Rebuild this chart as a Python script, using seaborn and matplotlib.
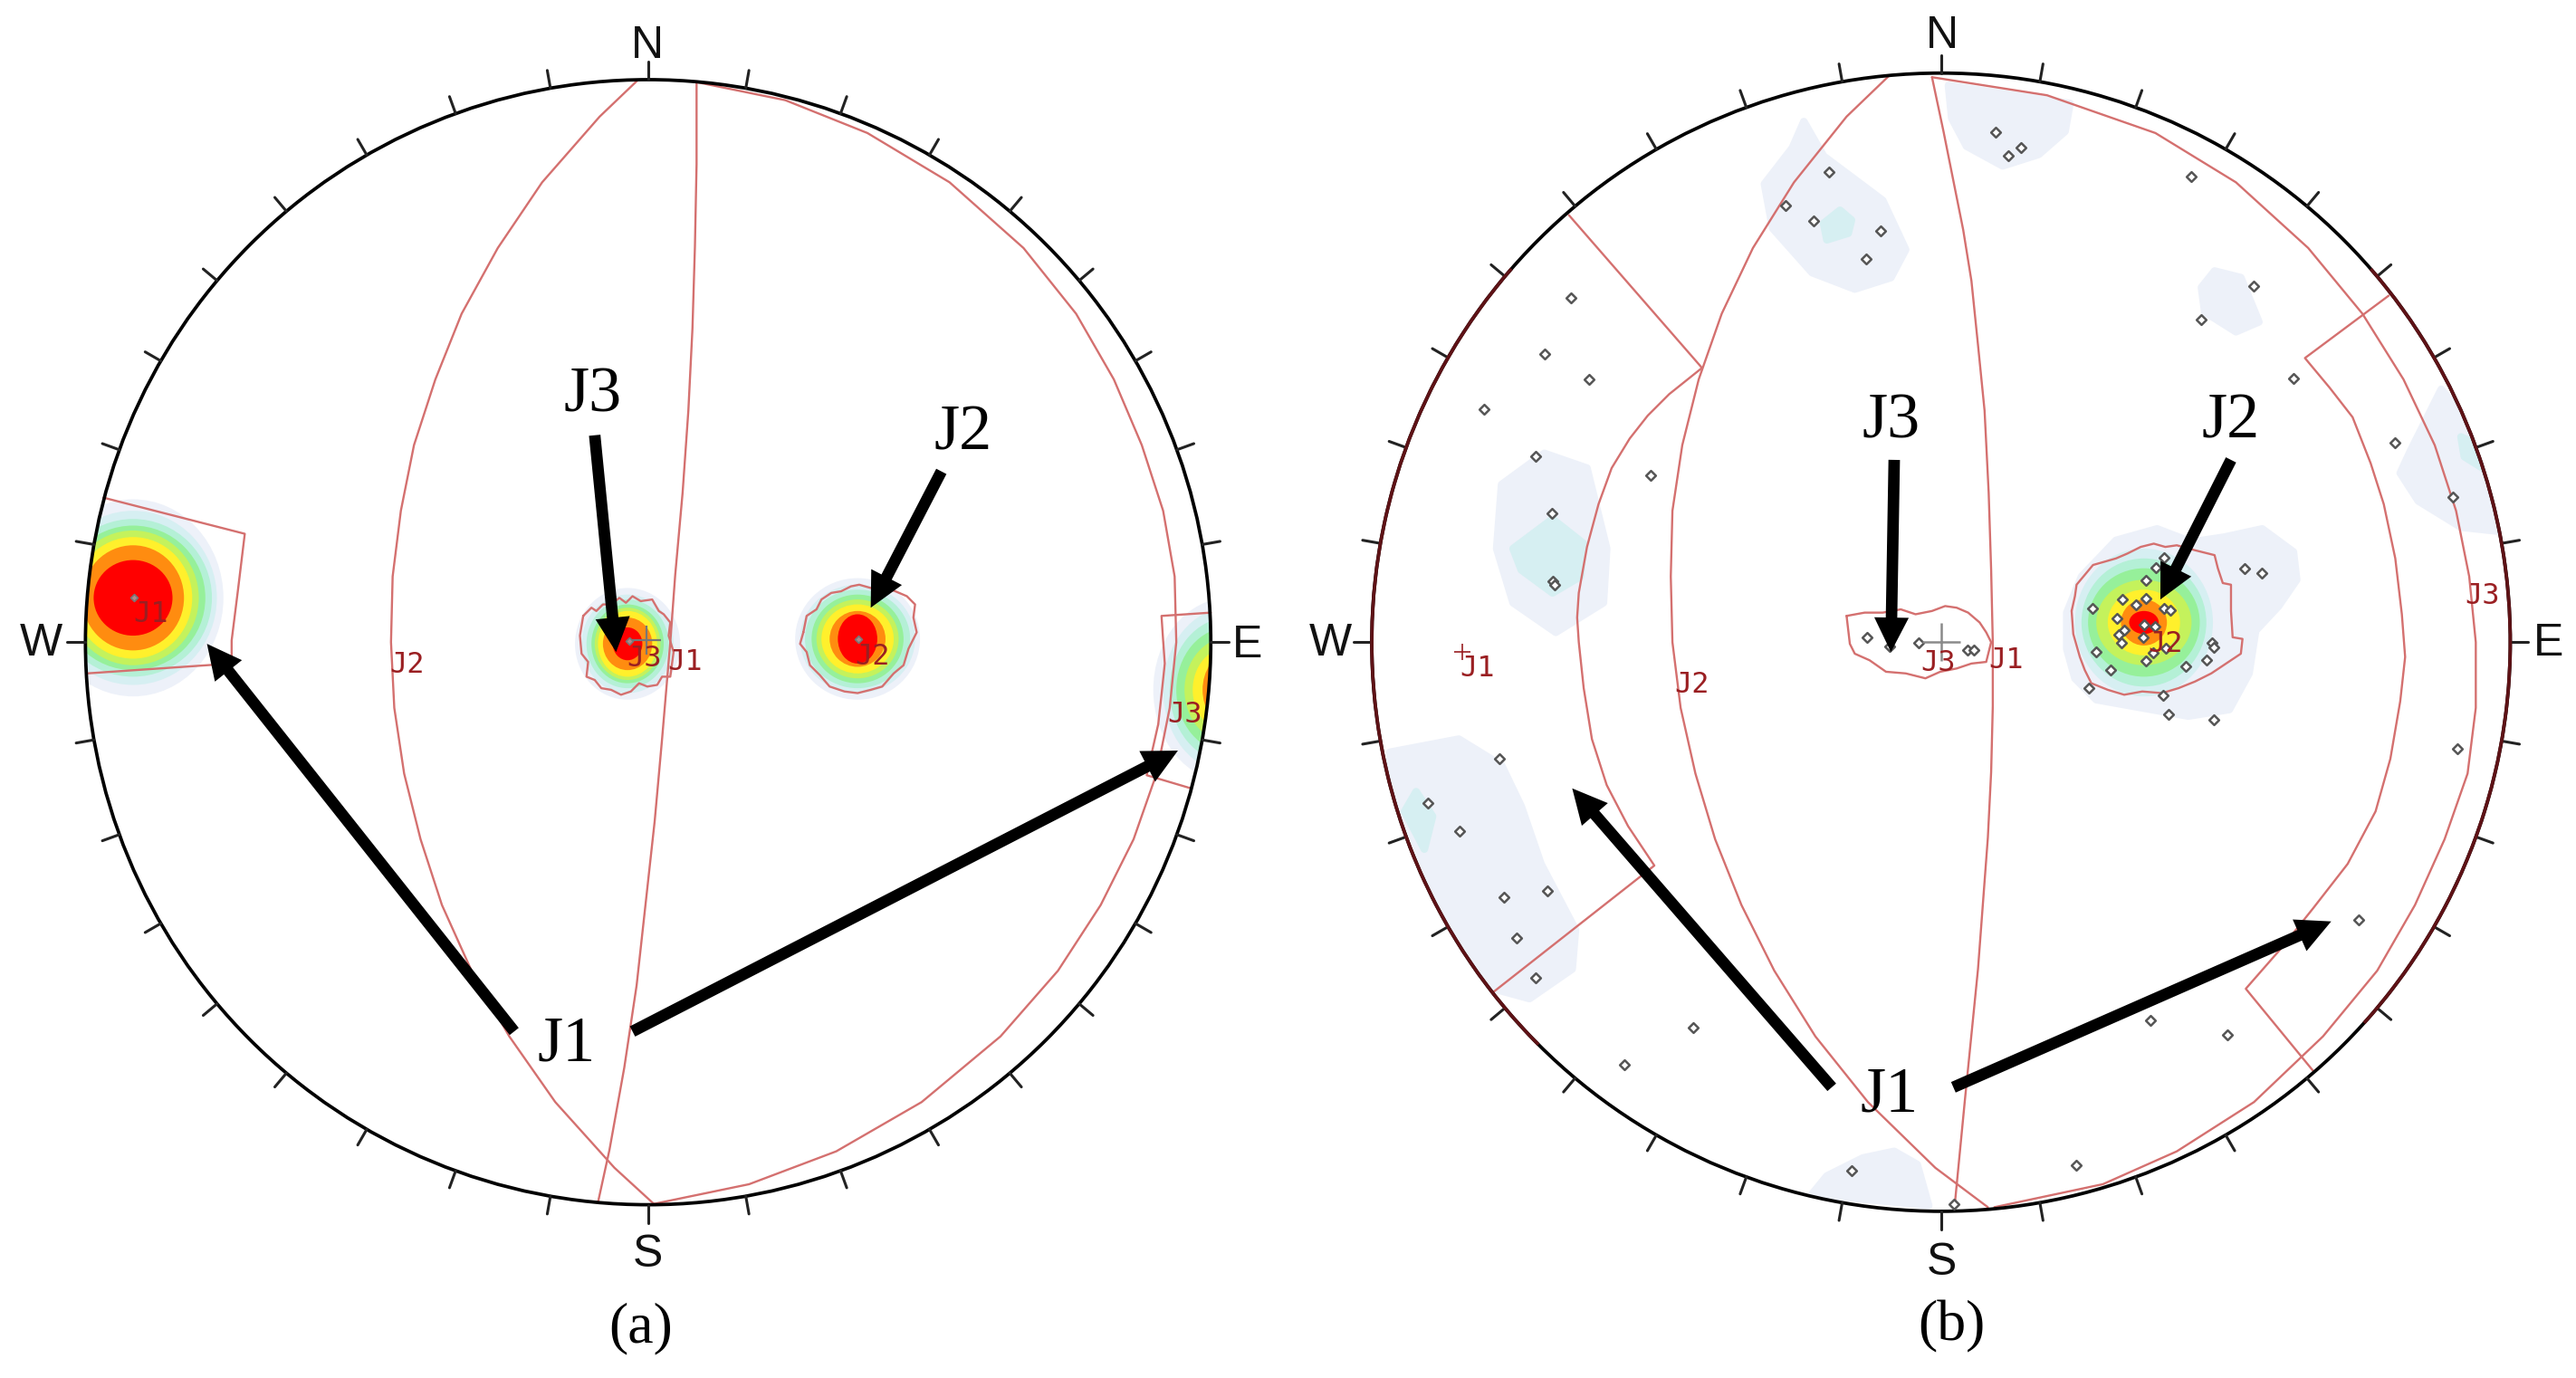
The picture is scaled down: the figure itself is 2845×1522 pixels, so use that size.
import numpy as np
import pandas as pd
import matplotlib
matplotlib.use('Agg')
import matplotlib.pyplot as plt
from matplotlib.patches import Circle, Ellipse, Arc, Polygon
import seaborn as sns

# stereonet frames: centre x, centre y, radius
LEFT_NET = (394.5, 391.0, 342.5)
RIGHT_NET = (1181.5, 391.0, 346.5)
TICK_DEG = list(range(0, 360, 10))

BAND_COLORS = ['#edf1f9', '#d6eff2', '#b4f0d6', '#96f09a', '#c4f25c', '#fff02c', '#ff8c10', '#ff0000']

# density blobs: centre, then x and y radius per band (0 = band not there)
BLOBS_LEFT = [
    ((81, 364), [55, 51, 48, 44, 40, 36, 31, 24], [60, 53, 48, 44, 41, 37, 32, 23]),
    ((382, 392), [32, 28, 25, 22, 20, 18, 15, 9], [34, 30, 27, 24, 22, 20, 16, 10]),
    ((522, 389), [38, 35, 32, 28, 25, 22, 17, 12], [37, 33, 30, 27, 24, 21, 17, 15]),
    ((748, 420), [46, 40, 36, 32, 27, 22, 16, 0], [56, 50, 44, 38, 32, 26, 22, 0]),
]
BLOBS_RIGHT = [
    ((1305, 379), [0, 42, 38, 34, 29, 22, 14, 9], [0, 45, 39, 33, 26, 20, 14, 7]),
]

# pale and teal density patches of the right net
PALE_RIGHT = [
    [(1098, 74), (1110, 95), (1130, 110), (1146, 122), (1160, 152), (1151, 169), (1129, 176), (1103, 166), (1079, 139), (1074, 112), (1091, 90)],
    [(1186, 52), (1260, 63), (1257, 80), (1241, 94), (1219, 101), (1197, 89), (1188, 72)],
    [(1348, 165), (1364, 169), (1375, 196), (1361, 202), (1342, 190), (1340, 175)],
    [(940, 276), (966, 285), (978, 334), (976, 367), (947, 385), (921, 367), (911, 334), (914, 295)],
    [(1486, 237), (1510, 267), (1526, 324), (1498, 321), (1472, 305), (1461, 288), (1467, 275)],
    [(846, 458), (888, 450), (914, 466), (926, 491), (938, 526), (959, 566), (957, 590), (931, 608), (909, 602), (874, 547), (846, 472)],
    [(1153, 701), (1167, 709), (1174, 734), (1103, 727), (1112, 716), (1134, 705)],
    [(1258, 373), (1267, 351), (1288, 329), (1313, 322), (1334, 330), (1354, 327), (1377, 322), (1396, 336), (1398, 353), (1387, 369), (1373, 384), (1369, 410), (1357, 432), (1332, 436), (1304, 431), (1276, 426), (1263, 413), (1258, 395)],
]
TEAL_RIGHT = [
    [(1120, 128), (1127, 134), (1125, 142), (1112, 146), (1110, 136)],
    [(945, 316), (964, 331), (962, 351), (945, 361), (926, 347), (921, 334)],
    [(1498, 266), (1510, 272), (1516, 288), (1500, 278)],
    [(862, 482), (872, 497), (867, 517), (855, 494)],
]

J1_LEFT_X = [424, 424, 423, 421.5, 419, 415.5, 411, 408, 403, 398.5, 393, 387.5, 380, 371, 364]
J1_LEFT_Y = [50, 100, 150, 200, 250, 300, 350, 391, 450, 500, 550, 600, 650, 700, 732]
J2_LEFT_X = [388, 365, 330, 303, 281, 265, 252, 244, 239, 238, 240, 246, 256, 269, 287, 310, 338, 374, 398]
J2_LEFT_Y = [49, 71, 111, 151, 191, 231, 271, 311, 351, 391, 431, 471, 511, 551, 591, 631, 671, 711, 733]
J3_LEFT_X = [424, 478, 528, 578, 623, 655, 678, 695, 708, 715, 716, 712, 704, 690, 670, 644, 609, 561, 509, 456, 398]
J3_LEFT_Y = [50, 61, 81, 111, 151, 191, 231, 271, 311, 351, 391, 431, 471, 511, 551, 591, 631, 671, 701, 721, 733]
WIN1_LEFT_X = [63, 149, 145, 141, 141, 53]
WIN1_LEFT_Y = [303, 325, 358, 390, 404, 410]
WIN2_LEFT_X = [737, 707, 708, 709, 707, 705, 698, 725]
WIN2_LEFT_Y = [373, 375, 390, 404, 423, 441, 472, 480]
J3_CONT_LEFT_X = [355, 360, 363, 367, 372, 377, 381, 385, 390, 397, 401, 404, 408, 407, 410, 408, 403, 400, 394, 389, 384, 378, 372, 366, 362, 357, 358, 354, 353, 355]
J3_CONT_LEFT_Y = [375, 370, 372, 368, 368, 364, 367, 363, 366, 365, 372, 374, 379, 387, 397, 412, 412, 417, 418, 416, 421, 423, 420, 419, 414, 412, 403, 398, 387, 375]
J2_CONT_LEFT_X = [489, 491, 497, 500, 506, 512, 518, 523, 530, 537, 545, 552, 557, 556, 558, 553, 550, 544, 537, 530, 522, 514, 505, 499, 493, 491, 487, 489]
J2_CONT_LEFT_Y = [385, 375, 371, 365, 361, 360, 357, 356, 358, 357, 360, 363, 368, 376, 385, 395, 405, 410, 418, 420, 422, 421, 418, 411, 405, 397, 392, 385]

J1_RIGHT_X = [1176, 1183, 1189, 1195, 1200, 1204, 1208, 1210.5, 1212, 1213, 1213, 1212, 1210, 1207, 1204, 1200, 1196, 1190]
J1_RIGHT_Y = [47, 80, 110, 140, 171, 210, 250, 300, 347, 391, 430, 470, 510, 550, 590, 630, 670, 732]
J2_RIGHT_X = [1150, 1124, 1092, 1067, 1048, 1034, 1024, 1018, 1017, 1018, 1023, 1032, 1044, 1060, 1080, 1105, 1137, 1178, 1210]
J2_RIGHT_Y = [46, 71, 111, 151, 191, 231, 271, 311, 351, 391, 431, 471, 511, 551, 591, 631, 671, 711, 735]
J3_RIGHT_X = [1176, 1246, 1312, 1361, 1405, 1438, 1463, 1482, 1495, 1503, 1507, 1507, 1502, 1488, 1470, 1447, 1414, 1372, 1325, 1280, 1214]
J3_RIGHT_Y = [47, 58, 81, 111, 151, 191, 231, 271, 311, 351, 391, 431, 471, 511, 551, 591, 631, 671, 701, 721, 735]
WIN1_RIGHT_X = [955, 1036, 1016, 1003, 992, 981, 973, 966, 961, 960, 961, 964, 969, 978, 991, 1007, 909]
WIN1_RIGHT_Y = [131, 224, 240, 253, 267, 285, 307, 333, 361, 376, 391, 419, 450, 478, 503, 527, 604]
WIN2_RIGHT_X = [1454, 1403, 1418, 1432, 1443, 1451, 1458, 1462, 1464, 1461, 1455, 1446, 1429, 1408, 1388, 1367, 1408]
WIN2_RIGHT_Y = [180, 218, 236, 254, 282, 307, 340, 374, 400, 427, 462, 494, 526, 553, 578, 602, 652]
J3_CONT_RIGHT_X = [1124, 1135, 1146, 1157, 1166, 1176, 1184, 1191, 1198, 1205, 1209, 1212, 1209, 1200, 1191, 1181, 1172, 1160, 1148, 1138, 1129, 1126, 1124]
J3_CONT_RIGHT_Y = [375, 373, 373, 371, 374, 372, 369, 370, 373, 379, 385, 391, 403, 404, 407, 409, 413, 410, 409, 402, 398, 392, 375]
J2_CONT_RIGHT_X = [1261, 1263, 1264, 1269, 1274, 1281, 1288, 1295, 1303, 1311, 1318, 1325, 1336, 1348, 1350, 1353, 1358, 1358, 1359, 1365, 1364, 1355, 1346, 1336, 1326, 1316, 1304, 1293, 1283, 1273, 1269, 1266, 1262, 1261]
J2_CONT_RIGHT_Y = [372, 363, 356, 350, 344, 342, 340, 337, 333, 331, 333, 332, 335, 338, 346, 355, 356, 372, 388, 389, 398, 404, 410, 415, 419, 422, 421, 423, 420, 416, 408, 400, 386, 372]

# poles
POLES_LEFT_X = [81.6, 383, 522.7]
POLES_LEFT_Y = [364, 390.5, 389]
POLES_RIGHT_X = [1214.8, 1230.4, 1222.3, 1113.1, 1086.7, 1104.2, 1144.8, 1135.8, 1333.9, 1371.7, 1339.6, 1396.3,
                 956.2, 940.1, 967.1, 903.3, 934.5, 1004.9, 944.4, 945.3, 946.3, 1457.7, 1493, 1136.3, 1150, 1168,
                 1197.8, 1201.5, 912.7, 869.2, 888.6, 915.6, 942, 923.1, 934.9, 1030.9, 988.8, 1127.3, 1189.2,
                 1263.5, 1308.8, 1355.6, 1435.5, 1496,
                 1317.4, 1312.4, 1306.4, 1292, 1300, 1306.4, 1317.4, 1320.9, 1273.7, 1288.8, 1305, 1311.7, 1293.1,
                 1289.5, 1304.6, 1291.5, 1318.6, 1310.6, 1306, 1276, 1284.7, 1330.3, 1343.1, 1346.5, 1347.7,
                 1271.6, 1316.7, 1320.2, 1347.7, 1366.5, 1376.5]
POLES_RIGHT_Y = [80.4, 89.8, 94.8, 105, 125, 134.4, 140.3, 157.9, 107.7, 174.2, 194.8, 230.6,
                 181.1, 215.3, 230.8, 249, 277.6, 289.3, 312.3, 354, 356.1, 269.6, 302.4, 387.9, 393.5, 391.4,
                 395.9, 395.9, 461.8, 488.8, 506.2, 546.4, 542.7, 571.3, 595.2, 625.7, 648.2, 712.8, 732.9,
                 709.3, 621.2, 630, 560.1, 456.1,
                 339.5, 345.4, 353.1, 365.1, 368, 364.5, 370.6, 371.3, 370.2, 376.6, 380.5, 381.2, 383.4,
                 386.4, 388, 391.3, 394.6, 397.2, 402.4, 396.9, 407.9, 405.7, 401.6, 391.3, 394.1,
                 418.7, 423.3, 434.9, 438, 346.3, 348.7]

# arrows: tail x, tail y, tip x, tip y
ARROWS = [(313, 628, 126, 392), (385, 628, 717, 457), (362, 265, 375, 397), (573, 287, 530, 370),
          (1115, 662, 957, 480), (1189, 662, 1419, 561), (1153, 280, 1151, 397), (1358, 280, 1315, 365)]

# text, x, y
COMPASS = [('N', 394, 28), ('S', 394, 764), ('W', 25, 392), ('E', 759, 393),
           ('N', 1182, 22), ('S', 1182, 769), ('W', 810, 392), ('E', 1551, 392)]
BIG_LABELS = [('J3', 361, 241), ('J2', 586, 264), ('J1', 345, 636),
              ('J3', 1151, 257), ('J2', 1358, 257), ('J1', 1150, 667)]
SMALL_LABELS = [('J1', 92, 374), ('J2', 248, 405), ('J3', 392, 401), ('J1', 417, 403), ('J2', 531, 400), ('J3', 721, 435),
                ('J1', 899, 407), ('J2', 1030, 417), ('J3', 1180, 404), ('J1', 1221, 402), ('J2', 1318, 392), ('J3', 1511, 363)]
PANEL_LABELS = [('(a)', 390, 809), ('(b)', 1188, 808)]

PLANE_RED = '#d4706f'
LABEL_RED = '#9a1f22'
RIM_RED = '#5e1216'

sns.set_style('white')
fig = plt.figure(figsize=(28.45, 15.22), dpi=100)
ax = fig.add_axes([0, 0, 1, 1])
ax.set_xlim(0, 1568)
ax.set_ylim(839, 0)
ax.axis('off')


def trace(xs, ys, color=PLANE_RED, lw=1.7, zorder=3):
    sns.lineplot(x=xs, y=ys, sort=False, estimator=None, color=color, lw=lw, zorder=zorder, ax=ax, legend=False)


def draw_net(net, blobs):
    cx, cy, r = net
    frame = Circle((cx, cy), r, fc='none', ec='black', lw=2.7, zorder=4)
    ax.add_patch(frame)
    for (bx, by), rxs, rys in blobs:
        for color, rx, ry in zip(BAND_COLORS, rxs, rys):
            if rx > 0:
                band = Ellipse((bx, by), 2 * rx, 2 * ry, fc=color, ec='none', zorder=1)
                ax.add_patch(band)
                band.set_clip_path(frame)
    # ticks every 10 degrees, outside of the rim
    ang = np.radians(TICK_DEG)
    ticks = pd.DataFrame({
        'x': np.r_[cx + r * np.sin(ang), cx + (r + 11) * np.sin(ang)],
        'y': np.r_[cy - r * np.cos(ang), cy - (r + 11) * np.cos(ang)],
        'tick': TICK_DEG * 2,
    })
    sns.lineplot(data=ticks, x='x', y='y', units='tick', estimator=None, sort=False,
                 color='#222222', lw=2.2, zorder=4, ax=ax, legend=False)
    return frame


left_frame = draw_net(LEFT_NET, BLOBS_LEFT)
right_frame = draw_net(RIGHT_NET, [])

for pts in PALE_RIGHT:
    poly = Polygon(pts, closed=True, fc=BAND_COLORS[0], ec=BAND_COLORS[0], lw=6, joinstyle='round', zorder=0.5)
    ax.add_patch(poly)
    poly.set_clip_path(right_frame)
for pts in TEAL_RIGHT:
    poly = Polygon(pts, closed=True, fc=BAND_COLORS[1], ec=BAND_COLORS[1], lw=6, joinstyle='round', zorder=0.6)
    ax.add_patch(poly)
    poly.set_clip_path(right_frame)
for (bx, by), rxs, rys in BLOBS_RIGHT:
    for color, rx, ry in zip(BAND_COLORS, rxs, rys):
        if rx > 0:
            ax.add_patch(Ellipse((bx, by), 2 * rx, 2 * ry, fc=color, ec='none', zorder=1))

# dark red stretches of the right rim
d = 2 * RIGHT_NET[2]
for a, b in [(135, 221), (-41, 42)]:
    ax.add_patch(Arc(RIGHT_NET[:2], d, d, theta1=a, theta2=b, color=RIM_RED, lw=2.7, zorder=4.5))

for xs, ys in [(J1_LEFT_X, J1_LEFT_Y), (J2_LEFT_X, J2_LEFT_Y), (J3_LEFT_X, J3_LEFT_Y),
               (WIN1_LEFT_X, WIN1_LEFT_Y), (WIN2_LEFT_X, WIN2_LEFT_Y),
               (J3_CONT_LEFT_X, J3_CONT_LEFT_Y), (J2_CONT_LEFT_X, J2_CONT_LEFT_Y),
               (J1_RIGHT_X, J1_RIGHT_Y), (J2_RIGHT_X, J2_RIGHT_Y), (J3_RIGHT_X, J3_RIGHT_Y),
               (WIN1_RIGHT_X, WIN1_RIGHT_Y), (WIN2_RIGHT_X, WIN2_RIGHT_Y),
               (J3_CONT_RIGHT_X, J3_CONT_RIGHT_Y), (J2_CONT_RIGHT_X, J2_CONT_RIGHT_Y)]:
    trace(xs, ys)

sns.scatterplot(x=POLES_LEFT_X, y=POLES_LEFT_Y, marker='D', s=16, fc='#b08a8a', ec='#777777', lw=1.2, zorder=5, ax=ax, legend=False)
sns.scatterplot(x=POLES_RIGHT_X, y=POLES_RIGHT_Y, marker='D', s=30, fc='white', ec='#555555', lw=1.8, zorder=5, ax=ax, legend=False)

# centre crosses and the small J1 pole cross
sns.scatterplot(x=[393.7], y=[390], marker='+', s=500, color='#777777', lw=1.6, zorder=5, ax=ax, legend=False)
sns.scatterplot(x=[1181.5], y=[391], marker='+', s=900, color='#8a8a8a', lw=1.8, zorder=5, ax=ax, legend=False)
sns.scatterplot(x=[890], y=[397], marker='+', s=170, color=LABEL_RED, lw=1.2, zorder=5, ax=ax, legend=False)

for text, x, y in SMALL_LABELS:
    ax.text(x, y, text, family='DejaVu Sans Mono', fontsize=23, color=LABEL_RED, ha='center', va='center', zorder=6)
for text, x, y in COMPASS:
    ax.text(x, y, text, family='Liberation Sans', fontsize=36, color='#111111', ha='center', va='center', zorder=6)
for text, x, y in BIG_LABELS:
    ax.text(x, y, text, family='Liberation Serif', fontsize=52, color='black', ha='center', va='center', zorder=7)
for text, x, y in PANEL_LABELS:
    ax.text(x, y, text, family='Liberation Serif', fontsize=46, color='black', ha='center', va='center', zorder=7)

for x0, y0, x1, y1 in ARROWS:
    ax.arrow(x0, y0, x1 - x0, y1 - y0, width=7, head_width=21, head_length=21,
             length_includes_head=True, fc='black', ec='black', lw=0, zorder=8)

fig.savefig('out.png', dpi=100)
